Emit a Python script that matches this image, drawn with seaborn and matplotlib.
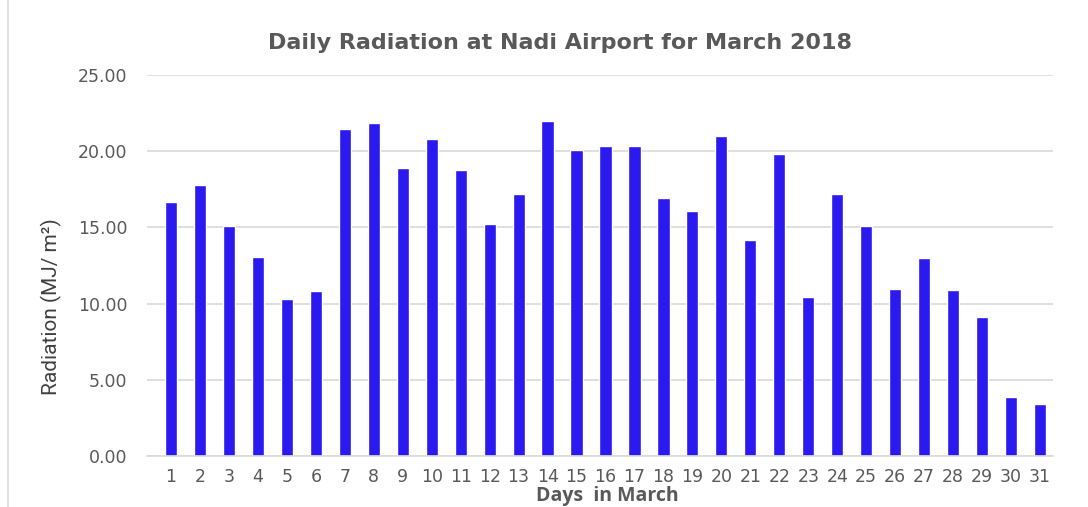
import matplotlib
matplotlib.use("Agg")
import matplotlib.pyplot as plt
import seaborn as sns
import pandas as pd

days = [str(d) for d in range(1, 32)]
radiation = [16.64, 17.76, 15.09, 13.07, 10.33, 10.81, 21.45, 21.84, 18.88, 20.81,
             18.77, 15.20, 17.21, 22.00, 20.07, 20.33, 20.33, 16.95, 16.10, 20.99,
             14.19, 19.80, 10.42, 17.21, 15.11, 10.99, 12.98, 10.88, 9.14, 3.88, 3.44]
y_ticks = [0, 5, 10, 15, 20, 25]

df = pd.DataFrame({"day": days, "rad": radiation})

sns.set_theme(style="white")
plt.rcParams['font.family'] = ['DejaVu Sans']

fig = plt.figure(figsize=(10.88, 5.07), dpi=100)
ax = fig.add_axes([147/1088, 1-456/507, (1053-147)/1088, (456-75)/507])

sns.barplot(data=df, x="day", y="rad", color="#2A1AF0", saturation=1, width=0.42,
            ax=ax, order=days)

ax.set_ylim(0, 25)
ax.set_xlim(-0.83, 30.45)
ax.set_yticks(y_ticks)
ax.set_yticklabels([f"{v:.2f}" for v in y_ticks])
ax.yaxis.grid(True, color="#D9D9D9", linewidth=1.2)
ax.set_axisbelow(True)
for s in ["top", "right", "left"]:
    ax.spines[s].set_visible(False)
ax.spines["bottom"].set_color("#D9D9D9")
ax.spines["bottom"].set_linewidth(1.2)
ax.tick_params(axis="both", length=0, labelsize=12.5, colors="#595959")
ax.tick_params(axis="y", pad=14)
ax.tick_params(axis="x", pad=9)

ax.set_xlabel("Days  in March", fontsize=14, fontweight="bold", color="#595959",
              family=["Open Sans", "DejaVu Sans"])
ax.xaxis.set_label_coords((607-147)/906, -(496-456)/381)
ax.xaxis.label.set_va("center")

ax.set_ylabel("Radiation (MJ/ m²)", fontsize=15, color="#404040",
              family=["Roboto", "DejaVu Sans"])
ax.yaxis.set_label_coords((51-147)/906, (456-307)/381)
ax.yaxis.label.set_va("center")

fig.text(560/1088, 1-43/507, "Daily Radiation at Nadi Airport for March 2018",
         ha="center", va="center", fontsize=16, fontweight="bold", color="#595959",
         family=["DejaVu Sans"])

fig.add_artist(plt.Line2D([8/1088, 8/1088], [0, 1], transform=fig.transFigure,
                          color="#D9D9D9", linewidth=1.2))

fig.savefig("out.png", dpi=100)
